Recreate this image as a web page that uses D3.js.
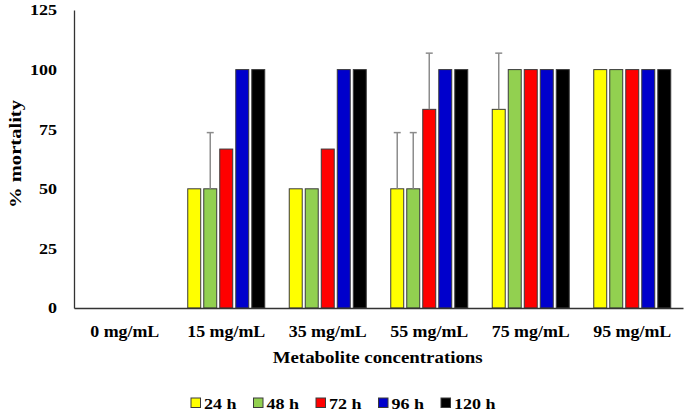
<!DOCTYPE html>
<html><head><meta charset="utf-8">
<script src="https://cdn.jsdelivr.net/npm/d3@7"></script>
<style>body{margin:0;background:#fff}svg{display:block}text{font-family:"Liberation Serif","Times New Roman",serif;font-weight:bold;fill:#000}</style>
</head><body>
<script>
const categories = ["0 mg/mL","15 mg/mL","35 mg/mL","55 mg/mL","75 mg/mL","95 mg/mL"];
const seriesNames = ["24 h","48 h","72 h","96 h","120 h"];
const seriesColors = ["#ffff00","#92d050","#ff0000","#0000cc","#000000"];
// values per series across categories
const v24  = [0, 50, 50, 50, 83.33, 100];
const v48  = [0, 50, 50, 50, 100, 100];
const v72  = [0, 66.67, 66.67, 83.33, 100, 100];
const v96  = [0, 100, 100, 100, 100, 100];
const v120 = [0, 100, 100, 100, 100, 100];
const e24  = [0, 0, 0, 23.57, 23.57, 0];
const e48  = [0, 23.57, 0, 23.57, 0, 0];
const e72  = [0, 0, 0, 23.57, 0, 0];
const e96  = [0, 0, 0, 0, 0, 0];
const e120 = [0, 0, 0, 0, 0, 0];
const yTicks = [0, 25, 50, 75, 100, 125];

const values = [v24, v48, v72, v96, v120];
const errors = [e24, e48, e72, e96, e120];

const W = 685, H = 416;
const svg = d3.select("body").append("svg").attr("width", W).attr("height", H);

function stretch(sel, k) {
  sel.each(function () {
    const w = this.getComputedTextLength();
    d3.select(this).attr("textLength", w * k).attr("lengthAdjust", "spacingAndGlyphs");
  });
}

const x0 = d3.scaleBand().domain(categories).range([74, 683]).paddingInner(0).paddingOuter(0);
const x1 = d3.scaleBand().domain(seriesNames).range([0, 77]).paddingInner(0.19).paddingOuter(0);
const groupOffset = (x0.bandwidth() - 77) / 2;
const y = d3.scaleLinear().domain([0, 125]).range([308, 10]);

// bars
categories.forEach((c, ci) => {
  const g = svg.append("g").attr("transform", `translate(${x0(c) + groupOffset},0)`);
  seriesNames.forEach((s, si) => {
    const v = values[si][ci];
    if (v <= 0) return;
    g.append("rect")
      .attr("x", x1(s)).attr("y", y(v))
      .attr("width", x1.bandwidth()).attr("height", y(0) - y(v))
      .attr("fill", seriesColors[si]).attr("stroke", "#3a3a3a").attr("stroke-width", 1);
  });
  // error bars
  seriesNames.forEach((s, si) => {
    const v = values[si][ci], e = errors[si][ci];
    if (v <= 0 || e <= 0) return;
    const cx = x1(s) + x1.bandwidth() / 2;
    g.append("line").attr("x1", cx).attr("x2", cx).attr("y1", y(v)).attr("y2", y(v + e))
      .attr("stroke", "#8c8c8c").attr("stroke-width", 1.5);
    g.append("line").attr("x1", cx - 3.5).attr("x2", cx + 3.5).attr("y1", y(v + e)).attr("y2", y(v + e))
      .attr("stroke", "#8c8c8c").attr("stroke-width", 1.5);
  });
});

// y axis
const yAxis = svg.append("g").attr("transform", "translate(74,0)")
  .call(d3.axisLeft(y).tickValues(yTicks).tickSize(0).tickPadding(17));
yAxis.select(".domain").attr("stroke", "#333").attr("stroke-width", 1.3);
yAxis.selectAll("text").attr("font-size", 15).attr("fill", "#000")
  .attr("font-family", "'Liberation Serif','Times New Roman',serif").attr("font-weight", "bold");
stretch(yAxis.selectAll("text"), 1.2);

// x axis
const xAxis = svg.append("g").attr("transform", "translate(0,308)")
  .call(d3.axisBottom(x0).tickSize(0).tickPadding(17.5));
xAxis.select(".domain").attr("stroke", "#333").attr("stroke-width", 1.3);
xAxis.selectAll("text").attr("font-size", 16).attr("fill", "#000")
  .attr("font-family", "'Liberation Serif','Times New Roman',serif").attr("font-weight", "bold");
{
  const ref = xAxis.selectAll("text").filter(d => d === "15 mg/mL").node();
  const k = 78 / ref.getComputedTextLength();
  stretch(xAxis.selectAll("text"), k);
}

// axis titles
const xt = svg.append("text").attr("x", 377.7).attr("y", 363.3).attr("text-anchor", "middle")
  .attr("font-size", 16).text("Metabolite concentrations");
xt.attr("textLength", 210).attr("lengthAdjust", "spacingAndGlyphs");
const yt = svg.append("text").attr("transform", "translate(20.5,154) rotate(-90)").attr("text-anchor", "middle")
  .attr("font-size", 17).text("% mortality");
yt.attr("textLength", 108).attr("lengthAdjust", "spacingAndGlyphs");

// legend
const lg = svg.append("g").attr("transform", "translate(191,398)");
seriesNames.forEach((s, i) => {
  const gi = lg.append("g").attr("transform", `translate(${i * 62.5},0)`);
  gi.append("rect").attr("width", 9.5).attr("height", 9.5)
    .attr("fill", seriesColors[i]).attr("stroke", "#3a3a3a").attr("stroke-width", 1);
  const t = gi.append("text").attr("x", 13).attr("y", 10.5).attr("font-size", 15).text(s);
  stretch(t, 1.2);
});
</script>
</body></html>
